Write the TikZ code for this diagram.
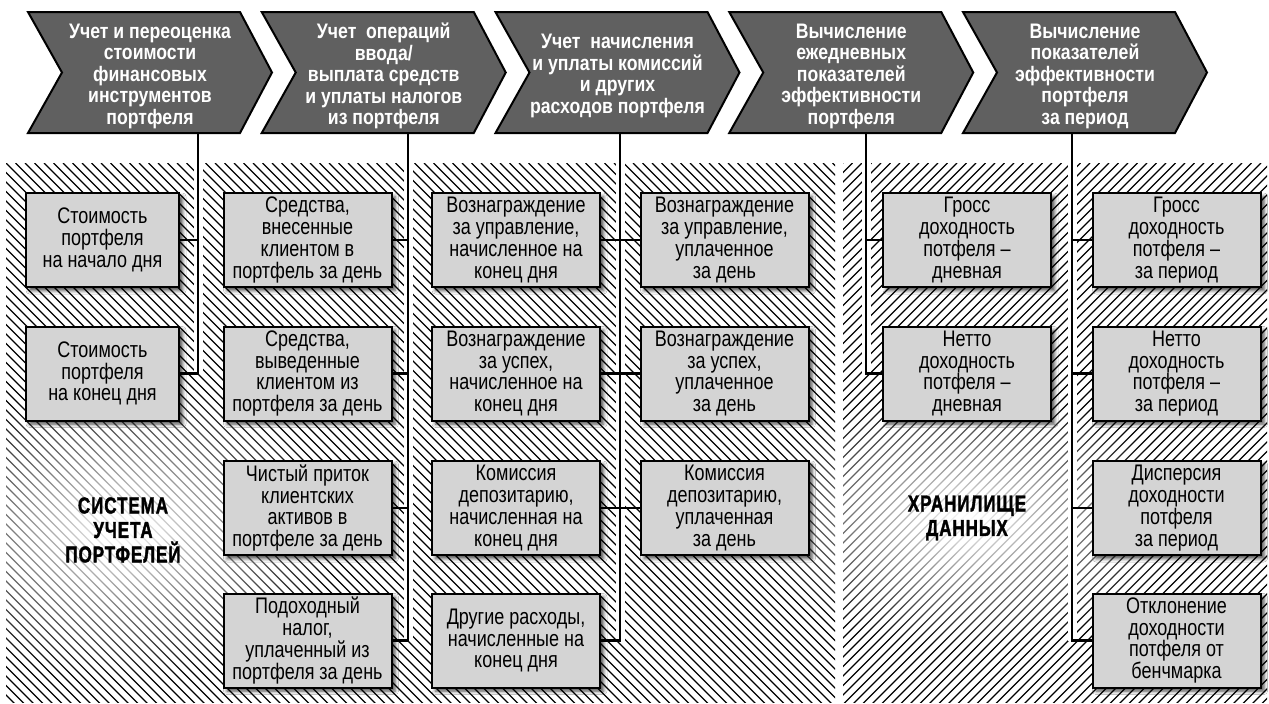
\documentclass[tikz,border=0pt]{standalone}
\usepackage{fontspec}
\setmainfont{Liberation Sans}[FakeStretch=0.8, BoldFeatures={FakeStretch=0.84}]
\newfontfamily\heavyfont{Liberation Sans}[FakeStretch=0.74, LetterSpace=4, BoldFeatures={FakeBold=1.6}]
\usepackage{xcolor}
\usepackage{tikz}
\usetikzlibrary{shadows.blur,fadings}

\definecolor{stagegray}{HTML}{606060}
\definecolor{cellgray}{HTML}{D4D4D4}
\tikzfading[name=glowfade, inner color=transparent!0, outer color=transparent!100]

\tikzset{
	stage/.style={fill=stagegray, draw=black, line width=2pt, line join=miter},
	stagetext/.style={text=white, align=center, font=\bfseries\fontsize{21}{21.5}\selectfont},
	cell/.style={draw=black, line width=2pt, fill=cellgray, minimum width=168pt, minimum height=94pt,
			inner sep=0pt, align=center, font=\fontsize{22.5}{21.8}\selectfont,
			blur shadow={shadow xshift=3.5pt, shadow yshift=-3.5pt, shadow blur radius=3.5pt, shadow opacity=70}},
	narrowcell/.style={cell, minimum width=153pt},
	bus/.style={line width=2.2pt},
	halo/.style={white, line width=9pt},
	hatch/.style={line width=1.3pt},
	area/.style={font=\heavyfont\bfseries\fontsize{23}{24.5}\selectfont, align=center}
}

\begin{document}
\begin{tikzpicture}[x=1pt, y=-1pt]
		\useasboundingbox[fill=white] (0,0) rectangle (1269,704);

		% Taps under the stage arrows
		\coordinate (t1) at (198,133);
		\coordinate (t2) at (408,133);
		\coordinate (t3) at (620,133);
		\coordinate (t4) at (866,133);
		\coordinate (t5) at (1072,133);

		% Hatched fields of the two systems
		\begin{scope}
			\clip (6,163) rectangle (835,702);
			\foreach \x in {-545,-535.5,...,840}
				\draw[hatch] (\x,163) -- ++(545,545);
		\end{scope}
		\begin{scope}
			\clip (843,163) rectangle (1267,702);
			\foreach \x in {843,852.5,...,1815}
				\draw[hatch] (\x,163) -- ++(-545,545);
		\end{scope}

		% White gaps along the vertical buses
		\foreach \t/\b in {t1/{(198,373.5)}, t2/{(408,640.5)}, t3/{(620,640.5)}, t4/{(866,373.5)}, t5/{(1072,640.5)}}
			\draw[halo] (\t) -- \b;

		% System labels with a soft light spot behind
		\fill[white, path fading=glowfade] (123,530) ellipse (220 and 150);
		\fill[white, path fading=glowfade] (967,518) ellipse (220 and 130);
		\node[area] (pms) at (123,530) {СИСТЕМА\\УЧЕТА\\ПОРТФЕЛЕЙ};
		\node[area] (dwh) at (967,518) {ХРАНИЛИЩЕ\\ДАННЫХ};

		% Portfolio value
		\node[narrowcell] (val1) at (102.5,240) {Стоимость\\портфеля\\на начало дня};
		\node[narrowcell] (val2) at (102.5,373.5) {Стоимость\\портфеля\\на конец дня};

		% Client cash flows
		\node[cell] (cash1) at (307.5,240) {Средства,\\внесенные\\клиентом в\\портфель за день};
		\node[cell] (cash2) at (307.5,373.5) {Средства,\\выведенные\\клиентом из\\портфеля за день};
		\node[cell] (cash3) at (307.5,508) {Чистый приток\\клиентских\\активов в\\портфеле за день};
		\node[cell] (cash4) at (307.5,640.5) {Подоходный\\налог,\\уплаченный из\\портфеля за день};

		% Accrued fees
		\node[cell] (acc1) at (516,240) {Вознаграждение\\за управление,\\начисленное на\\конец дня};
		\node[cell] (acc2) at (516,373.5) {Вознаграждение\\за успех,\\начисленное на\\конец дня};
		\node[cell] (acc3) at (516,508) {Комиссия\\депозитарию,\\начисленная на\\конец дня};
		\node[cell] (acc4) at (516,640.5) {Другие расходы,\\начисленные на\\конец дня};

		% Paid fees
		\node[cell] (paid1) at (724.5,240) {Вознаграждение\\за управление,\\уплаченное\\за день};
		\node[cell] (paid2) at (724.5,373.5) {Вознаграждение\\за успех,\\уплаченное\\за день};
		\node[cell] (paid3) at (724.5,508) {Комиссия\\депозитарию,\\уплаченная\\за день};

		% Daily returns
		\node[cell] (day1) at (967,240) {Гросс\\доходность\\потфеля –\\дневная};
		\node[cell] (day2) at (967,373.5) {Нетто\\доходность\\потфеля –\\дневная};

		% Returns over the period
		\node[cell] (per1) at (1176.5,240) {Гросс\\доходность\\потфеля –\\за период};
		\node[cell] (per2) at (1176.5,373.5) {Нетто\\доходность\\потфеля –\\за период};
		\node[cell] (per3) at (1176.5,508) {Дисперсия\\доходности\\потфеля\\за период};
		\node[cell] (per4) at (1176.5,640.5) {Отклонение\\доходности\\потфеля от\\бенчмарка};

		% Buses from the stages down to the boxes
		\draw[bus] (t1) |- (val2.east);
		\draw[bus] (val1.east) -- (val1.east -| t1);
		\draw[bus] (t2) |- (cash4.east);
		\foreach \j in {1,2,3}
			\draw[bus] (cash\j.east) -- (cash\j.east -| t2);
		\draw[bus] (t3) |- (acc4.east);
		\foreach \j in {1,2,3}
			\draw[bus] (acc\j.east) -- (paid\j.west);
		\draw[bus] (t4) |- (day2.west);
		\draw[bus] (day1.west -| t4) -- (day1.west);
		\draw[bus] (t5) |- (per4.west);
		\foreach \j in {1,2,3}
			\draw[bus] (per\j.west -| t5) -- (per\j.west);

		% Stage arrows along the top
		\foreach \i/\txt in {1/{Учет и переоценка\\стоимости\\финансовых\\инструментов\\портфеля},
				2/{Учет\ \ операций\\ввода/\\выплата средств\\и уплаты налогов\\из портфеля},
				3/{Учет\ \ начисления\\и уплаты комиссий\\и других\\расходов портфеля},
				4/{Вычисление\\ежедневных\\показателей\\эффективности\\портфеля},
				5/{Вычисление\\показателей\\эффективности\\портфеля\\за период}} {
			\pgfmathsetmacro{\lx}{28+233.75*(\i-1)}
			\draw[stage] (\lx,12) -- ++(212,0) -- ++(32,60.5) -- ++(-32,60.5) -- ++(-212,0) -- ++(34,-60.5) -- cycle;
			\node[stagetext] (s\i) at (\lx+122,76) {\txt};
		}
	\end{tikzpicture}
\end{document}
